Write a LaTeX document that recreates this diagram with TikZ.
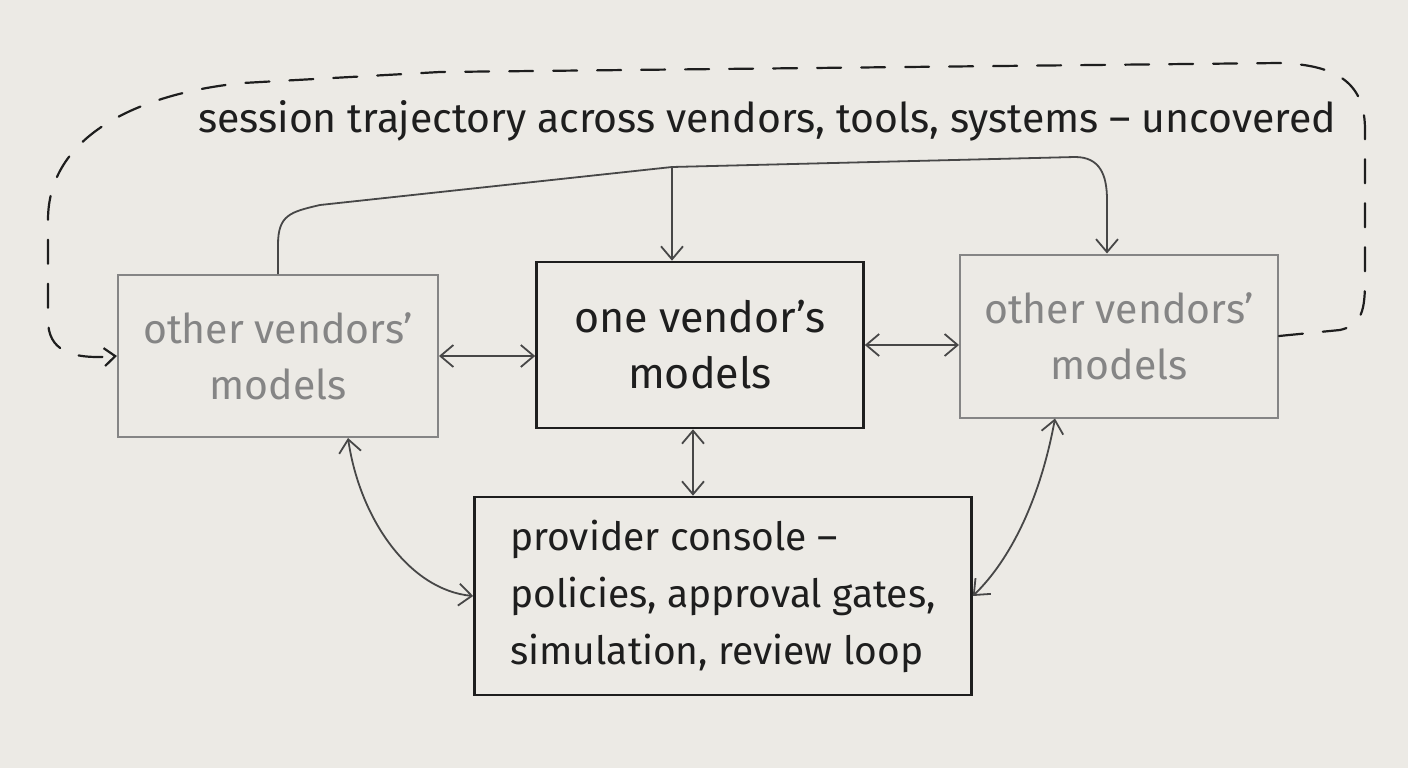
\documentclass[tikz,border=0pt]{standalone}
\usepackage{fontspec}
\setmainfont{Fira Sans}
\usetikzlibrary{arrows.meta,calc}
\definecolor{paper}{HTML}{ECEAE5}
\definecolor{ink}{HTML}{1E1E1E}
\definecolor{pencil}{HTML}{858585}
\definecolor{lead}{HTML}{474747}
\begin{document}
\begin{tikzpicture}[x=1pt,y=-1pt,
  blackbox/.style={draw=ink,line width=2.6pt,align=center,text=ink,inner sep=0pt},
  graybox/.style={font=\fontsize{41}{56}\selectfont,draw=pencil,line width=2pt,align=center,text=pencil,inner sep=0pt},
  conn/.style={draw=lead,line width=1.8pt},
  tip/.style={-{Straight Barb[length=13pt,width=22pt]}},
  both/.style={{Straight Barb[length=13pt,width=22pt]}-{Straight Barb[length=13pt,width=22pt]}},
  loop/.style={draw=ink,line width=2.2pt,dash pattern=on 24pt off 20pt,line cap=round}]
\fill[paper] (0,0) rectangle (1408,768);
\useasboundingbox (0,0) rectangle (1408,768);

\node[graybox,minimum width=320pt,minimum height=162pt] (L) at (278,356) {other vendors’\\models};
\node[blackbox,font=\fontsize{43}{56}\selectfont,minimum width=327pt,minimum height=166pt] (C) at (700,345) {one vendor’s\\models};
\node[graybox,minimum width=318pt,minimum height=163pt] (R) at (1119,336) {other vendors’\\models};
\node[blackbox,font=\fontsize{39}{57}\selectfont,minimum width=497pt,minimum height=198pt,align=left] (B) at (723,596) {provider console –\\policies, approval gates,\\simulation, review loop};

\node[font=\fontsize{41}{44}\selectfont,text=ink] (T) at (767,121) {session trajectory across vendors, tools, systems – uncovered};

% top connector
\coordinate (J) at (672,167);
\coordinate (rt) at (1107,0);
\coordinate (vx) at (693,0);
\draw[conn,tip] (L.north) -- (278,245) .. controls (278,215) and (290,212) .. (320,205) -- (J) -- (1075,157) .. controls (1100,157) and (1107,175) .. (1107,200) -- (rt |- R.north);
\draw[conn,tip] (J) -- (J |- C.north);

% horizontal links
\draw[conn,both] (L.east) -- (C.west |- L.east);
\draw[conn,both] (C.east) -- (R.west |- C.east);
\draw[conn,both] (vx |- C.south) -- (vx |- B.north);

% curved links to console
\draw[conn,both] ($(L.south)+(70,0)$) .. controls (360,520) and (410,590) .. (B.west);
\draw[conn,both] ($(R.south)+(-64,0)$) .. controls (1040,500) and (1010,560) .. (B.east);

% dashed session loop
\draw[loop,-{Straight Barb[length=11pt,width=18pt]}] (R.east) -- (1340,330) .. controls (1362,325) and (1365,310) .. (1365,280) -- (1365,130) .. controls (1365,85) and (1340,65) .. (1280,63) -- (440,72) -- (243,83) .. controls (150,92) and (48,130) .. (48,220) -- (48,320) .. controls (48,350) and (70,360) .. (L.west);
\end{tikzpicture}
\end{document}
